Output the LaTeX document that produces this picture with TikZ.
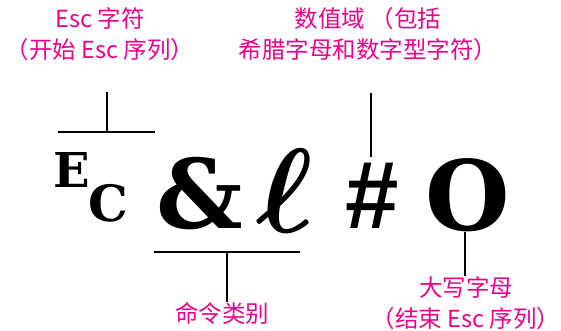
\documentclass[tikz,border=0pt]{standalone}
\usepackage{fontspec}
\usepackage{amsmath,bm}
\newfontfamily\cjk{Noto Sans CJK SC}
\newfontfamily\symsans{Liberation Sans}
\newfontfamily\symserif{DejaVu Serif}
\usetikzlibrary{positioning}

\begin{document}
\begin{tikzpicture}[x=1pt,y=-1pt,
  lbl/.style={text=magenta,font=\cjk\fontsize{23.5}{31}\selectfont,align=center,inner sep=0pt},
  sym/.style={inner sep=0pt,anchor=base west},
  tick/.style={line width=2pt}]
\useasboundingbox (0,0) rectangle (561,331);
% labels
\node[lbl] (esc) at (100,34) {Esc 字符\\（开始 Esc 序列）};
\node[lbl] (num) at (368,34) {数值域 （包括\\希腊字母和数字型字符）};
\node[lbl] (cmd) at (222,313) {命令类别};
\node[lbl] (cap) at (466,303) {大写字母\\（结束 Esc 序列）};
% symbols
\node[sym,font=\symserif\bfseries\fontsize{48}{48}\selectfont] (E) at (53,187) {E};
\node[sym,font=\symserif\bfseries\fontsize{50}{50}\selectfont] (C) at (88,221) {C};
\node[sym,font=\symserif\bfseries\fontsize{96}{96}\selectfont] (amp) at (156,228) {\&};
\node[sym] (ell) at (256,232) {\scalebox{12}[12]{$\bm{\ell}$}};
\node[sym,font=\symsans\bfseries\fontsize{96}{96}\selectfont] (hash) at (345,228) {\#};
\node[sym,font=\symserif\bfseries\fontsize{97}{97}\selectfont] (O) at (425,230) {O};
% brackets
\coordinate (escT) at (107,92);
\coordinate (escB) at (107,132);
\coordinate (escL) at (58,132);
\coordinate (escR) at (155,132);
\draw[tick] (escT) -- (escB);
\draw[tick] (escL) -- (escR);
\coordinate (cmdL) at (154,252);
\coordinate (cmdR) at (300,252);
\coordinate (cmdM) at (227,252);
\draw[tick] (cmdL) -- (cmdR);
\draw[tick] (cmdM) -- (cmd.north -| cmdM);
\coordinate (numT) at (371,93);
\coordinate (numB) at (371,157);
\draw[tick] (numT) -- (numB);
\coordinate (capT) at (465,232);
\draw[tick] (capT) -- (cap.north -| capT);
\end{tikzpicture}
\end{document}
